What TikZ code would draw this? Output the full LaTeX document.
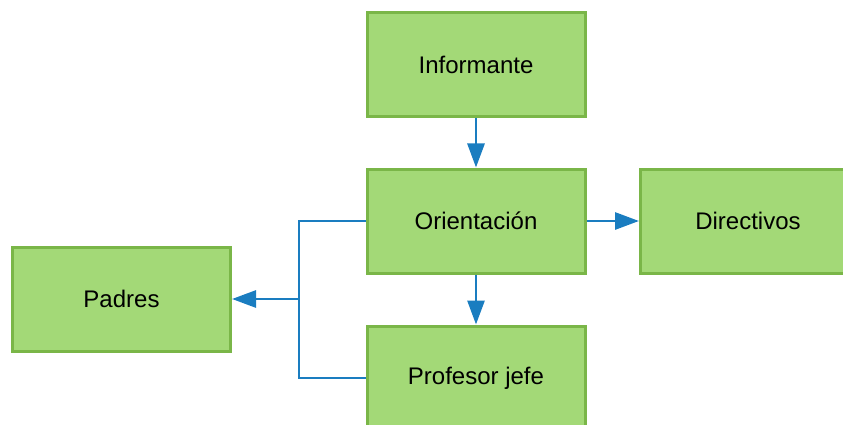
\documentclass[tikz,border=0pt]{standalone}
\usepackage{fontspec}
\setmainfont{Liberation Sans}
\usetikzlibrary{arrows.meta}
\definecolor{boxfill}{HTML}{A3D977}
\definecolor{boxline}{HTML}{7AB648}
\definecolor{conn}{HTML}{1A7DC0}
\begin{document}
\begin{tikzpicture}[x=1pt,y=-1pt,
  lbl/.style={font=\fontsize{24}{28}\selectfont},
  box/.style={lbl,draw=boxline,fill=boxfill,line width=3pt,minimum width=218pt,minimum height=104pt,inner sep=0pt},
  conline/.style={draw=conn,line width=2.8pt},
  arr/.style={conline,-{Triangle[length=24pt,width=17pt]}}]
\useasboundingbox (0,0) rectangle (843,425);
\node[box] (inf) at (476,64.5) {Informante};
\node[box] (ori) at (476,221) {Orientación};
\node[box,minimum width=300pt,anchor=west] (dir) at (639,221) {};
\node[lbl] (dirlabel) at (748,221) {Directivos};
\node[box] (pad) at (121.5,299) {Padres};
\node[box] (pro) at (476,378) {Profesor jefe};
\coordinate (j) at (299,299);
\draw[arr] (inf.south) -- (ori.north);
\draw[arr] (ori.east) -- (dir.west);
\draw[arr] (ori.south) -- (pro.north);
\draw[conline] (ori.west) -- (299,221) -- (299,378) -- (pro.west);
\draw[arr] (j) -- (pad.east);
\end{tikzpicture}
\end{document}
